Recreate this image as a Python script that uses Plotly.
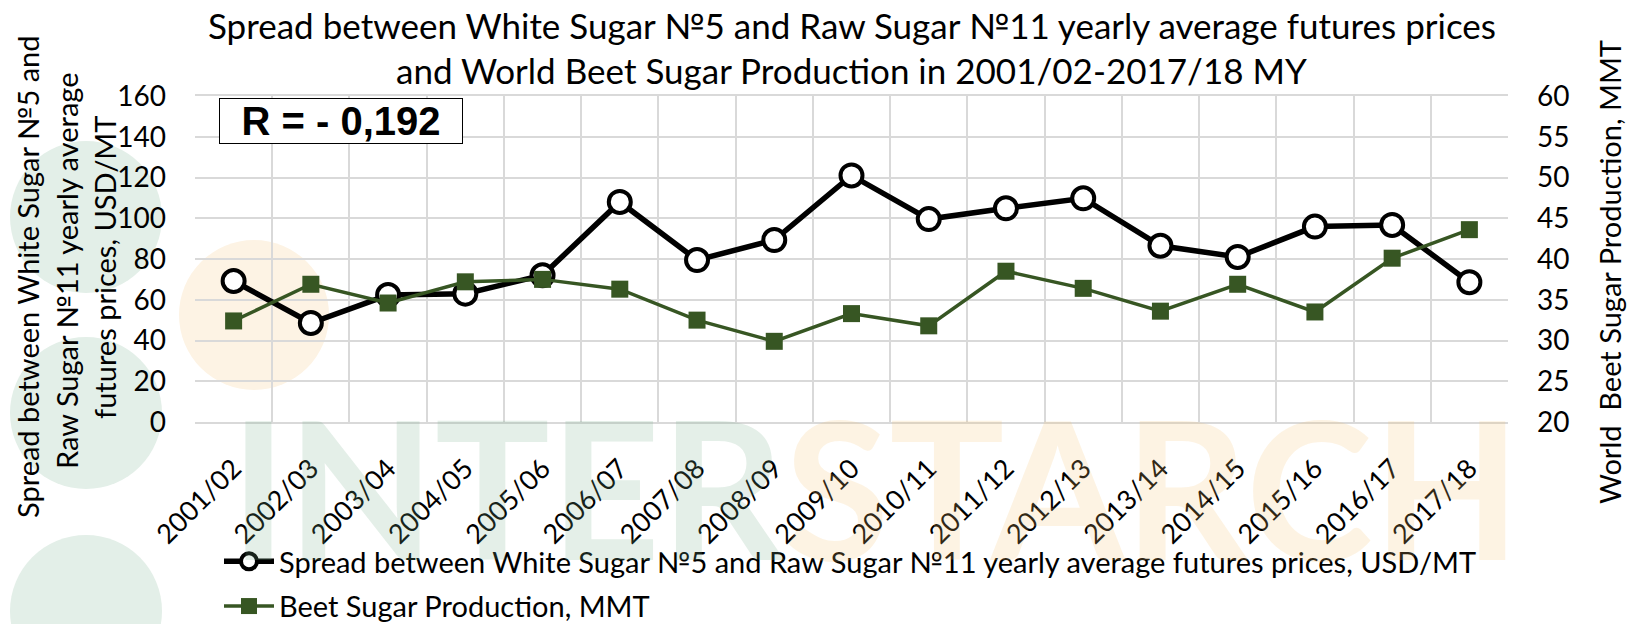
import plotly.graph_objects as go

seasons = ["2001/02", "2002/03", "2003/04", "2004/05", "2005/06", "2006/07", "2007/08", "2008/09",
           "2009/10", "2010/11", "2011/12", "2012/13", "2013/14", "2014/15", "2015/16", "2016/17", "2017/18"]
spread_usd_mt = [69.2, 48.6, 62.3, 63.0, 72.0, 108.0, 79.5, 89.3, 121.0, 99.6, 104.9, 109.8,
                 86.5, 81.0, 95.9, 96.7, 68.6]
beet_sugar_mmt = [32.4, 36.9, 34.6, 37.2, 37.5, 36.3, 32.5, 29.9, 33.3, 31.8, 38.5, 36.4,
                  33.6, 36.9, 33.5, 40.1, 43.6]

spread_name = "Spread between White Sugar №5 and Raw Sugar №11 yearly average futures prices, USD/MT"
beet_name = "Beet Sugar Production, MMT"
title_lines = ["Spread between White Sugar №5 and Raw Sugar №11 yearly average futures prices",
               "and World Beet Sugar Production in 2001/02-2017/18 MY"]
left_title_lines = ["Spread between White Sugar №5 and", "Raw Sugar №11 yearly average", "futures prices, USD/MT"]
right_title = "World  Beet Sugar Production, MMT"
r_text = "R = - 0,192"

FONT = "Lato"
GRID = "#d9d9d9"

# figure geometry (pixels)
W, H = 1629, 624
L, R, T, B = 195, 121, 96, 202
PW, PH = W - L - R, H - T - B


def px(x):
    return (x - L) / PW


def py(y):
    return (H - B - y) / PH


fig = go.Figure()
fig.add_trace(go.Scatter(x=seasons, y=spread_usd_mt, name=spread_name, mode="lines+markers",
                         line=dict(color="black", width=5.5),
                         marker=dict(symbol="circle", size=22, color="white",
                                     line=dict(color="black", width=4)),
                         yaxis="y", legendgroup="spread"))
fig.add_trace(go.Scatter(x=seasons, y=beet_sugar_mmt, name=beet_name, mode="lines+markers",
                         line=dict(color="#375623", width=3.5),
                         marker=dict(symbol="square", size=17, color="#375623"),
                         yaxis="y2", legendgroup="beet"))

# watermark circles
shapes = []
for cx, cy, r, col in [(86, 217, 76, "#e3efe8"), (86, 413, 76, "#e3efe8"), (86, 611, 76, "#e3efe8"),
                       (254, 315, 75, "#fdf3e4")]:
    shapes.append(dict(type="circle", xref="paper", yref="paper", xsizemode="pixel", ysizemode="pixel",
                       xanchor=px(cx), yanchor=py(cy), x0=-r, x1=r, y0=-r, y1=r,
                       fillcolor=col, line=dict(width=0), layer="below"))

annotations = [
    dict(text=title_lines[0], x=0.5, y=py(25), xref="paper", yref="paper", showarrow=False,
         xanchor="center", yanchor="middle", font=dict(family=FONT, size=35, color="black")),
    dict(text=title_lines[1], x=0.5, y=py(70), xref="paper", yref="paper", showarrow=False,
         xanchor="center", yanchor="middle", font=dict(family=FONT, size=35, color="black")),
    dict(text="<b>%s</b>" % r_text, x=px(341), y=py(121), xref="paper", yref="paper", showarrow=False,
         xanchor="center", yanchor="middle", width=240, height=42, borderpad=1,
         bordercolor="black", borderwidth=1, bgcolor="white",
         font=dict(family="Liberation Sans", size=40, color="black")),
    dict(text=right_title, x=px(1609), y=py(272), xref="paper", yref="paper", showarrow=False,
         textangle=-90, xanchor="center", yanchor="middle", font=dict(family=FONT, size=29, color="black")),
    # INTERSTARCH watermark, translucent so the labels underneath stay readable
    dict(text="<span style='color:rgba(120,175,140,0.2)'>INTER</span>"
              "<span style='color:rgba(245,195,115,0.2)'>STARCH</span>",
         x=px(875), y=py(485), xref="paper", yref="paper", showarrow=False,
         xanchor="center", yanchor="middle", font=dict(family=FONT, size=192, weight=700)),
]
for line, cx, cy in zip(left_title_lines, [27, 66, 104], [277, 271, 267]):
    annotations.append(dict(text=line, x=px(cx), y=py(cy), xref="paper", yref="paper", showarrow=False,
                            textangle=-90, xanchor="center", yanchor="middle",
                            font=dict(family=FONT, size=29, color="black")))

fig.update_layout(
    width=W, height=H,
    margin=dict(l=L, r=R, t=T, b=B, autoexpand=False),
    paper_bgcolor="white",
    plot_bgcolor="rgba(0,0,0,0)",
    font=dict(family=FONT, size=28, color="black"),
    shapes=shapes,
    annotations=annotations,
    xaxis=dict(type="category", range=[-0.5, len(seasons) - 0.5], tickson="boundaries",
               showgrid=True, gridcolor=GRID, gridwidth=2,
               tickangle=-45, ticks="", ticklabelstandoff=18, tickfont=dict(size=27),
               showline=True, linecolor=GRID, linewidth=2, mirror=True),
    yaxis=dict(range=[0, 160], dtick=20, showgrid=True, gridcolor=GRID, gridwidth=2,
               zeroline=False, ticks="", ticklabelstandoff=28, showline=False),
    yaxis2=dict(range=[20, 60], dtick=5, overlaying="y", side="right", showgrid=False,
                zeroline=False, ticks="", ticklabelstandoff=28, showline=False),
    legend=dict(x=px(219), y=py(536), xanchor="left", yanchor="top", orientation="v",
                traceorder="grouped", tracegroupgap=4, itemwidth=50,
                bgcolor="rgba(0,0,0,0)", font=dict(size=29)),
    showlegend=True,
)

# the page body has a default 8px margin; drop it so the figure fills the window exactly
fig.write_html("out.html", config={"displayModeBar": False},
               post_script="document.body.style.margin='0';")
